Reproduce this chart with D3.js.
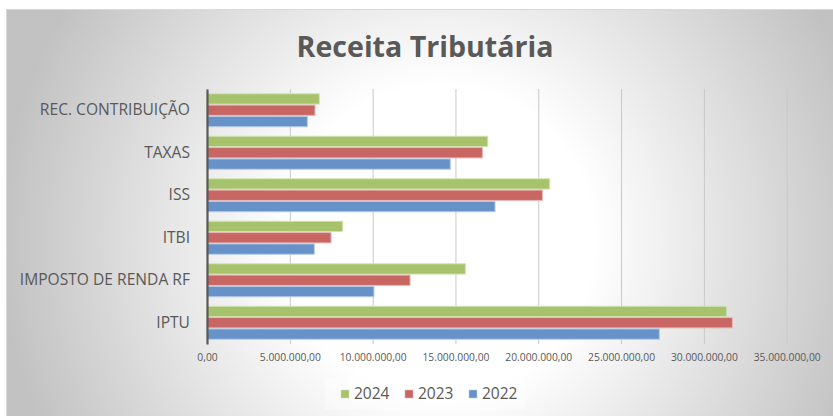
<!DOCTYPE html>
<html>
<head>
<meta charset="utf-8">
<script src="https://cdn.jsdelivr.net/npm/d3@7"></script>
<style>
  body { margin: 0; background: #fff; }
  text { font-family: "Open Sans", sans-serif; fill: #595959; }
</style>
</head>
<body>
<div id="chart"></div>
<script>
var categories = ["REC. CONTRIBUIÇÃO", "TAXAS", "ISS", "ITBI", "IMPOSTO DE RENDA RF", "IPTU"];
var series = ["2024", "2023", "2022"];
var values2024 = [6780000, 16950000, 20690000, 8190000, 15600000, 31380000];
var values2023 = [6520000, 16630000, 20250000, 7490000, 12260000, 31720000];
var values2022 = [6060000, 14690000, 17390000, 6480000, 10080000, 27310000];
var xTicks = [0, 5000000, 10000000, 15000000, 20000000, 25000000, 30000000, 35000000];

(function() {
  var width = 833;
  var height = 416;
  var colors = { "2024": "#a6c36c", "2023": "#c86663", "2022": "#6792c8" };
  var borders = { "2024": "#d3e2b5", "2023": "#e9b8b6", "2022": "#b7cbe6" };
  var seriesValues = { "2024": values2024, "2023": values2023, "2022": values2022 };

  var svg = d3.select("#chart")
    .append("svg")
    .attr("width", width)
    .attr("height", height);

  // radial background like the office chart style
  var defs = svg.append("defs");
  var grad = defs.append("radialGradient")
    .attr("id", "bg")
    .attr("gradientUnits", "userSpaceOnUse")
    .attr("cx", 440).attr("cy", 240).attr("r", 440);
  grad.append("stop").attr("offset", "0").attr("stop-color", "#ffffff");
  grad.append("stop").attr("offset", "0.35").attr("stop-color", "#ffffff");
  grad.append("stop").attr("offset", "1").attr("stop-color", "#c2c2c2");

  svg.append("rect")
    .attr("x", 6.5).attr("y", 9.5)
    .attr("width", width - 6).attr("height", height - 9)
    .attr("fill", "url(#bg)")
    .attr("stroke", "#d9d9d9");

  var locale = d3.formatLocale({ decimal: ",", thousands: ".", grouping: [3], currency: ["R$", ""] });
  var fmt = locale.format(",.2f");

  var x = d3.scaleLinear().domain([0, 35000000]).range([207, 786.7]);
  var y = d3.scaleBand().domain(categories).range([89, 344])
    .paddingInner(0.2).paddingOuter(0.1);
  var ySub = d3.scaleBand().domain(series).range([0, y.bandwidth()]);

  // gridlines
  svg.append("g")
    .attr("class", "grid")
    .attr("transform", "translate(0,344)")
    .call(d3.axisBottom(x).tickValues(xTicks).tickSize(-255).tickFormat(""))
    .call(function(g) {
      g.select(".domain").remove();
      g.selectAll("line").attr("stroke", "#c8c8c8").attr("stroke-width", 1);
    });

  // bars
  var groups = svg.selectAll(".cat")
    .data(categories)
    .enter().append("g")
    .attr("class", "cat")
    .attr("transform", function(d) { return "translate(0," + y(d) + ")"; });

  groups.selectAll("rect")
    .data(function(d, i) {
      return series.map(function(s) { return { key: s, value: seriesValues[s][i] }; });
    })
    .enter().append("rect")
    .attr("x", x(0))
    .attr("y", function(d) { return ySub(d.key) + 0.5; })
    .attr("width", function(d) { return x(d.value) - x(0); })
    .attr("height", ySub.bandwidth() - 1)
    .attr("fill", function(d) { return colors[d.key]; })
    .attr("stroke", function(d) { return borders[d.key]; })
    .attr("stroke-width", 1);

  // x axis labels
  var xAxis = svg.append("g")
    .attr("transform", "translate(0,344)")
    .call(d3.axisBottom(x).tickValues(xTicks).tickSize(0).tickPadding(10).tickFormat(fmt));
  xAxis.select(".domain").remove();
  xAxis.selectAll("text")
    .style("font-size", "10.3px")
    .attr("fill", "#595959");

  // y axis
  var yAxis = svg.append("g")
    .attr("transform", "translate(207,0)")
    .call(d3.axisLeft(y).tickSize(0).tickPadding(17));
  yAxis.select(".domain")
    .attr("stroke", "#595959")
    .attr("stroke-width", 2.2);
  yAxis.selectAll("text")
    .style("font-size", "15.6px")
    .attr("fill", "#595959");

  // title
  var title = svg.append("text")
    .attr("x", 425)
    .attr("y", 57)
    .attr("text-anchor", "middle")
    .style("font-weight", "bold")
    .style("font-size", "30px")
    .text("Receita Tributária");
  var tw = title.node().getComputedTextLength();
  title.style("font-size", (30 * 257 / tw) + "px");

  // legend
  svg.append("rect")
    .attr("x", 325).attr("y", 378)
    .attr("width", 201).attr("height", 32)
    .attr("fill", "#ffffff").attr("fill-opacity", 0.35);

  var legendX = d3.scalePoint().domain(series).range([341, 469]);
  var items = svg.selectAll(".legend")
    .data(series)
    .enter().append("g")
    .attr("class", "legend")
    .attr("transform", function(d) { return "translate(" + legendX(d) + ",394)"; });
  items.append("rect")
    .attr("x", 0).attr("y", -4)
    .attr("width", 8).attr("height", 8)
    .attr("fill", function(d) { return colors[d]; })
    .attr("stroke", function(d) { return borders[d]; })
    .attr("stroke-width", 0.5);
  items.append("text")
    .attr("x", 13)
    .attr("y", 0)
    .attr("dy", "0.35em")
    .style("font-size", "15.5px")
    .text(function(d) { return d; });
})();
</script>
</body>
</html>
